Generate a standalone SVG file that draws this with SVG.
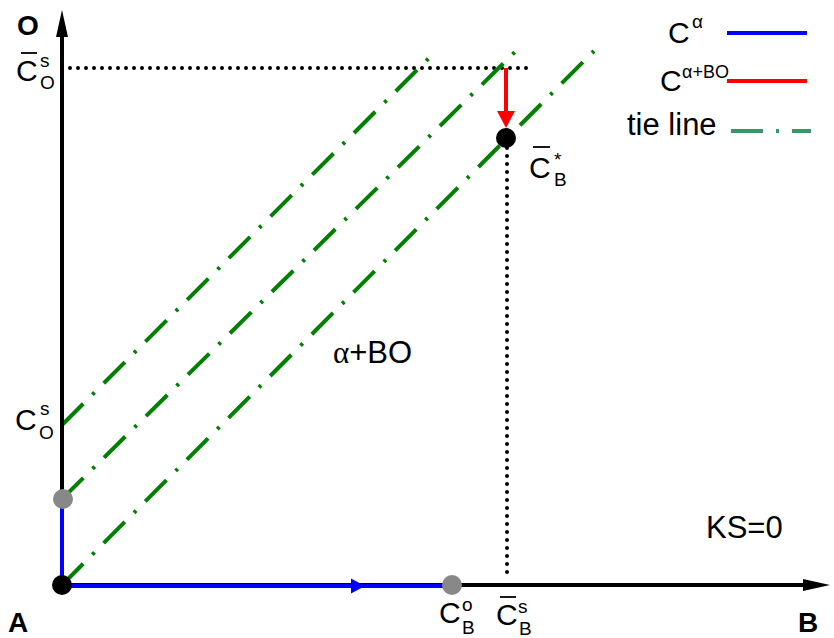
<svg xmlns="http://www.w3.org/2000/svg" width="834" height="638" viewBox="0 0 834 638">
<defs>
<style>
text{font-family:"Liberation Sans",Arial,sans-serif;fill:#000}
.lbl{font-size:30px}
.sup{font-size:19px}
.sub{font-size:19px}
.ax{font-size:28px;font-weight:bold}
.axis{stroke:#000;stroke-width:4;fill:none}
.dot{stroke:#000;stroke-width:4;stroke-linecap:round;stroke-dasharray:0 8;fill:none}
.tie{stroke:#008000;stroke-width:4;stroke-dasharray:30 13 3 13;fill:none}
.blue{stroke:#0000ff;stroke-width:4;fill:none}
.bar{stroke:#000;stroke-width:1.8}
</style>
</defs>
<rect width="834" height="638" fill="#fff"/>
<g id="connectors">
<line class="dot" x1="70" y1="68" x2="534" y2="68"/>
<line class="dot" x1="507" y1="148" x2="507" y2="580"/>
<line class="tie" x1="62" y1="425" x2="434" y2="53"/>
<line class="tie" x1="62" y1="499" x2="522" y2="45"/>
<line class="tie" x1="62" y1="585" x2="594" y2="51"/>
<line class="axis" x1="62" y1="585" x2="62" y2="34"/>
<polygon points="62,10 56,37 68,37" fill="#000"/>
<line class="axis" x1="62" y1="585" x2="806" y2="585"/>
<polygon points="830,585 803,579 803,591" fill="#000"/>
<line class="blue" x1="62" y1="585" x2="62" y2="499"/>
<line class="blue" x1="62" y1="586" x2="450" y2="586"/>
<polygon points="351,578.5 365,586 351,593.5" fill="#0000ff"/>
<line x1="506" y1="68" x2="506" y2="114" stroke="#ff0000" stroke-width="4"/>
<polygon points="497,111 515,111 506,128" fill="#ff0000"/>
</g>
<g id="node-A"><circle cx="62" cy="585" r="10" fill="#000"/><text class="ax" x="8" y="632">A</text></g>
<g id="node-B"><text class="ax" x="798" y="632">B</text></g>
<g id="node-O"><text class="ax" x="17" y="35">O</text></g>
<g id="node-grey1"><circle cx="63" cy="499" r="10" fill="#888"/></g>
<g id="node-CBo"><circle cx="452" cy="585" r="10" fill="#888"/>
<text class="lbl" x="439" y="623">C</text><text class="sup" x="462" y="611">o</text><text class="sub" x="462" y="634">B</text></g>
<g id="node-CBs"><line class="bar" x1="500" y1="597" x2="516" y2="597"/>
<text class="lbl" x="496" y="625">C</text><text class="sup" x="518" y="613">s</text><text class="sub" x="519" y="635">B</text></g>
<g id="node-CBstar"><circle cx="506" cy="138" r="10" fill="#000"/>
<line class="bar" x1="533" y1="147" x2="550" y2="147"/>
<text class="lbl" x="529" y="178">C</text><text class="sup" x="554" y="166">*</text><text class="sub" x="554" y="186">B</text></g>
<g id="node-COs-bar"><line class="bar" x1="21" y1="53" x2="37" y2="53"/>
<text class="lbl" x="16" y="81">C</text><text class="sup" x="40" y="67">s</text><text class="sub" x="40" y="89">O</text></g>
<g id="node-COs"><text class="lbl" x="15" y="430">C</text><text class="sup" x="40" y="415">s</text><text class="sub" x="39" y="439">O</text></g>
<g id="region"><text x="333" y="363" font-size="31"><tspan font-family="Liberation Serif, serif">α</tspan>+BO</text></g>
<g id="ks"><text x="706" y="538" font-size="31">KS=0</text></g>
<g id="legend">
<text x="668" y="43" font-size="30">C</text><text x="692" y="28" font-size="19">α</text>
<line x1="727" y1="33" x2="807" y2="33" stroke="#0000ff" stroke-width="4"/>
<text x="660" y="91" font-size="30">C</text><text x="682" y="78" font-size="18">α+BO</text>
<line x1="727" y1="81" x2="807" y2="81" stroke="#ff0000" stroke-width="4"/>
<text x="627" y="135" font-size="31">tie line</text>
<line x1="731" y1="131" x2="811" y2="131" stroke="#339966" stroke-width="4" stroke-dasharray="32 13 3 13"/>
</g>
</svg>
